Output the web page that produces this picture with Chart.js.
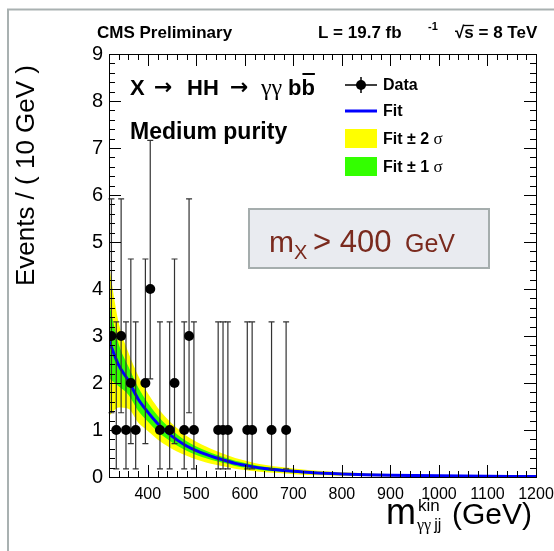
<!DOCTYPE html>
<html><head><meta charset="utf-8">
<script src="https://cdn.jsdelivr.net/npm/chart.js@4/dist/chart.umd.min.js"></script>
<style>html,body{margin:0;padding:0;background:#fff;} canvas{display:block;}</style>
</head><body>
<canvas id="c" width="554" height="551"></canvas>
<script>
// ---- data ----
const binCenters = [325,335,345,355,365,375,395,405,425,445,455,475,485,495,545,555,565,605,615,655,685];
const counts     = [3,  1,  3,  1,  2,  1,  2,  4,  1,  1,  2,  1,  3,  1,  1,  1,  1,  1,  1,  1,  1];
// Poisson (Garwood) 68% interval half-widths per count
const poissonLow  = {1:0.827, 2:1.292, 3:1.633, 4:1.914};
const poissonHigh = {1:2.300, 2:2.638, 3:2.918, 4:3.162};

const fitX   = [320,340,360,380,400,420,440,460,480,500,520,540,560,580,600,620,640,660,680,700,720,740,760,780,800,850,900,950,1000,1050,1100,1150,1200];
const fitY   = [2.90,2.38,2.05,1.66,1.38,1.14,0.95,0.79,0.66,0.56,0.48,0.41,0.35,0.29,0.25,0.21,0.18,0.16,0.14,0.12,0.105,0.093,0.082,0.073,0.065,0.050,0.038,0.030,0.024,0.019,0.015,0.012,0.010];
const sigma1 = [0.80,0.45,0.30,0.25,0.20,0.17,0.14,0.12,0.10,0.09,0.08,0.07,0.06,0.055,0.05,0.045,0.04,0.035,0.03,0.03,0.025,0.025,0.02,0.02,0.02,0.015,0.012,0.010,0.010,0.008,0.007,0.006,0.005];
const sigma2 = [1.60,0.90,0.60,0.50,0.40,0.34,0.29,0.25,0.21,0.19,0.17,0.15,0.13,0.115,0.10,0.09,0.08,0.07,0.065,0.06,0.055,0.05,0.045,0.04,0.038,0.030,0.025,0.020,0.018,0.015,0.013,0.011,0.010];

const xTicks = [400,500,600,700,800,900,1000,1100,1200];
const yTicks = [0,1,2,3,4,5,6,7,8,9];
const xMinorStep = 20, yMinorStep = 0.2;

const SANS = '"Liberation Sans", Arial, sans-serif';
const SERIF = '"Liberation Serif", "DejaVu Serif", serif';
const DEJAVU = '"DejaVu Sans", sans-serif';

const pts = (ys) => fitX.map((x,i)=>({x, y: ys(i)}));
const band = (data, extra) => Object.assign({type:'line', data, pointRadius:0, borderWidth:0, fill:false, cubicInterpolationMode:'monotone'}, extra);

const decor = {
  id:'decor',
  beforeDatasetDraw(chart, args){
    if (args.index !== 0) return;
    const {ctx, scales:{x, y}} = chart;
    ctx.save();
    ctx.strokeStyle = '#333'; ctx.lineWidth = 1.2;
    binCenters.forEach((c,i)=>{
      const n = counts[i];
      const px = x.getPixelForValue(c);
      const y1 = y.getPixelForValue(n - poissonLow[n]);
      const y2 = y.getPixelForValue(n + poissonHigh[n]);
      ctx.beginPath();
      ctx.moveTo(px, y1); ctx.lineTo(px, y2);
      ctx.moveTo(px-3, y1); ctx.lineTo(px+3, y1);
      ctx.moveTo(px-3, y2); ctx.lineTo(px+3, y2);
      ctx.stroke();
    });
    ctx.restore();
  },
  afterDraw(chart){
    const {ctx, chartArea:a, scales:{x, y}} = chart;
    ctx.save();
    // outer grey frame
    ctx.strokeStyle = '#a9b1b1'; ctx.lineWidth = 2;
    ctx.beginPath(); ctx.moveTo(8, 551); ctx.lineTo(8, 9.5); ctx.lineTo(554, 9.5); ctx.stroke();
    // plot frame
    ctx.strokeStyle = '#000'; ctx.lineWidth = 1;
    ctx.strokeRect(Math.round(a.left)+0.5, Math.round(a.top)+0.5, Math.round(a.right-a.left), Math.round(a.bottom-a.top));
    // ticks inside
    ctx.beginPath();
    for (let v = 320; v <= 1200.001; v += xMinorStep) {
      const major = xTicks.includes(Math.round(v));
      const L = major ? 12 : 6;
      const px = Math.round(x.getPixelForValue(v)) + 0.5;
      ctx.moveTo(px, a.bottom); ctx.lineTo(px, a.bottom - L);
      ctx.moveTo(px, a.top); ctx.lineTo(px, a.top + L);
    }
    for (let v = 0; v <= 9.0001; v += yMinorStep) {
      const major = Math.abs(v - Math.round(v)) < 1e-6;
      const L = major ? 12 : 6;
      const py = Math.round(y.getPixelForValue(v)) + 0.5;
      ctx.moveTo(a.left, py); ctx.lineTo(a.left + L, py);
      ctx.moveTo(a.right, py); ctx.lineTo(a.right - L, py);
    }
    ctx.stroke();

    // header
    ctx.fillStyle = '#000'; ctx.textBaseline = 'alphabetic'; ctx.textAlign = 'left';
    ctx.font = 'bold 17px ' + SANS;
    ctx.fillText('CMS Preliminary', 97, 38);
    ctx.fillText('L = 19.7 fb', 318, 38);
    ctx.font = 'bold 11px ' + SANS;
    ctx.fillText('-1', 428, 30);
    ctx.font = 'bold 17px ' + SANS;
    ctx.fillText('\u221As = 8 TeV', 455, 38);
    const sw = ctx.measureText('\u221A').width, ssw = ctx.measureText('s').width;
    ctx.lineWidth = 1.3; ctx.beginPath(); ctx.moveTo(455 + sw - 1, 25.5); ctx.lineTo(455 + sw + ssw, 25.5); ctx.stroke();

    // process label
    ctx.font = 'bold 22px ' + SANS; ctx.fillText('X', 130, 95);
    ctx.font = 'bold 22px ' + DEJAVU; ctx.fillText('\u2192', 154, 94);
    ctx.font = 'bold 22px ' + SANS; ctx.fillText('HH', 187, 95);
    ctx.font = 'bold 22px ' + DEJAVU; ctx.fillText('\u2192', 230, 94);
    ctx.font = '24px ' + SERIF; ctx.fillText('\u03B3\u03B3', 261, 95);
    ctx.font = 'bold 22px ' + SANS; ctx.fillText('bb', 288, 95);
    const bw = ctx.measureText('b').width;
    ctx.lineWidth = 2; ctx.beginPath(); ctx.moveTo(288 + bw + 1, 74); ctx.lineTo(288 + 2*bw, 74); ctx.stroke();
    ctx.font = 'bold 23px ' + SANS; ctx.fillText('Medium purity', 130, 139);

    // legend
    ctx.lineWidth = 1.5; ctx.strokeStyle = '#000';
    ctx.beginPath(); ctx.moveTo(345, 85); ctx.lineTo(377, 85); ctx.moveTo(361, 77); ctx.lineTo(361, 93); ctx.stroke();
    ctx.beginPath(); ctx.arc(361, 85, 5, 0, 2*Math.PI); ctx.fill();
    ctx.strokeStyle = '#0000ff'; ctx.lineWidth = 3;
    ctx.beginPath(); ctx.moveTo(345, 111); ctx.lineTo(377, 111); ctx.stroke();
    ctx.fillStyle = '#ffff00'; ctx.fillRect(345, 129, 32, 19);
    ctx.fillStyle = '#33ff00'; ctx.fillRect(345, 157, 32, 19);
    ctx.fillStyle = '#000'; ctx.textBaseline = 'middle';
    ctx.font = 'bold 16px ' + SANS;
    ctx.fillText('Data', 383, 86);
    ctx.fillText('Fit', 383, 112);
    const legTxt = (t, yy) => {
      ctx.font = 'bold 16px ' + SANS; ctx.fillText(t, 383, yy);
      const w = ctx.measureText(t + ' ').width;
      ctx.font = '17px ' + SERIF; ctx.fillText('\u03C3', 383 + w, yy);
    };
    legTxt('Fit \u00B1 2', 140);
    legTxt('Fit \u00B1 1', 168);

    // mX box
    ctx.fillStyle = '#e9ebf0'; ctx.fillRect(249, 209, 240, 59);
    ctx.strokeStyle = '#a5adad'; ctx.lineWidth = 2; ctx.strokeRect(249, 209, 240, 59);
    ctx.fillStyle = '#7a2a1e'; ctx.textBaseline = 'alphabetic';
    ctx.font = '30px ' + SANS; ctx.fillText('m', 269, 252);
    ctx.font = '20px ' + SANS; ctx.fillText('X', 294, 259);
    ctx.font = '31px ' + SANS; ctx.fillText('> 400', 313, 252);
    ctx.font = '25px ' + SANS; ctx.fillText('GeV', 405, 252);

    // axis titles
    ctx.fillStyle = '#000';
    ctx.save();
    ctx.translate(27, 65); ctx.rotate(-Math.PI/2);
    ctx.textAlign = 'right'; ctx.textBaseline = 'middle';
    ctx.font = '26px ' + SANS; ctx.fillText('Events / ( 10 GeV )', 0, 0);
    ctx.restore();
    ctx.textAlign = 'left'; ctx.textBaseline = 'alphabetic';
    ctx.font = '36px ' + SANS; ctx.fillText('m', 386, 524);
    ctx.font = '17px ' + SANS; ctx.fillText('kin', 418, 511);
    ctx.font = '16px ' + SERIF; ctx.fillText('\u03B3\u03B3', 417, 530);
    const gw = ctx.measureText('\u03B3\u03B3').width;
    ctx.font = '16px ' + SANS; ctx.fillText('jj', 417 + gw + 3, 530);
    ctx.font = '30px ' + SANS; ctx.fillText('(GeV)', 452, 524);
    ctx.restore();
  }
};

new Chart(document.getElementById('c'), {
  data: {
    datasets: [
      {type:'scatter', label:'Data', data: binCenters.map((x,i)=>({x, y:counts[i]})), pointRadius:5, pointHoverRadius:5, pointBackgroundColor:'#000', pointBorderWidth:0, order:0},
      {type:'line', label:'Fit', data: pts(i=>fitY[i]), borderColor:'#0000ff', borderWidth:3, pointRadius:0, fill:false, cubicInterpolationMode:'monotone', order:1},
      band(pts(i=>fitY[i]+sigma1[i]), {label:'up1', fill:'+1', backgroundColor:'#33ff00', order:2}),
      band(pts(i=>fitY[i]-sigma1[i]), {label:'lo1', order:2}),
      band(pts(i=>fitY[i]+sigma2[i]), {label:'up2', fill:'+1', backgroundColor:'#ffff00', order:3}),
      band(pts(i=>fitY[i]-sigma2[i]), {label:'lo2', order:3})
    ]
  },
  options: {
    responsive:false, animation:false, devicePixelRatio:1,
    layout:{autoPadding:false, padding:{left:39, right:18, top:54, bottom:44}},
    plugins:{legend:{display:false}, tooltip:{enabled:false}, title:{display:false}},
    scales:{
      x:{type:'linear', min:320, max:1200,
         afterBuildTicks: s => { s.ticks = xTicks.map(v=>({value:v})); },
         afterFit: s => { s.height = 30; s.paddingLeft = 0; s.paddingRight = 0; },
         ticks:{color:'#000', font:{family:SANS, size:16}, padding:8, maxRotation:0, autoSkip:false, callback: v => String(v)},
         grid:{display:false, drawTicks:false}, border:{display:false}},
      y:{type:'linear', min:0, max:9,
         afterBuildTicks: s => { s.ticks = yTicks.map(v=>({value:v})); },
         afterFit: s => { s.width = 70; s.paddingTop = 0; s.paddingBottom = 0; },
         ticks:{color:'#000', font:{family:SANS, size:20}, padding:6, callback: v => String(v)},
         grid:{display:false, drawTicks:false}, border:{display:false}}
    }
  },
  plugins:[decor]
});
</script>
</body></html>
